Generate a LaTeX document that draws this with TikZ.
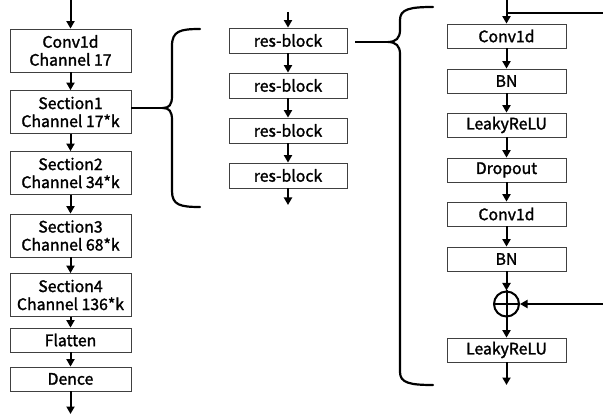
\documentclass[tikz,border=0pt]{standalone}
\usepackage{fontspec}
\setmainfont{Noto Sans CJK JP}[FakeBold=1.6]
\usetikzlibrary{arrows.meta}
\tikzset{
  blk/.style={draw=black!75, line width=0.8pt, fill=white, inner sep=0pt, align=center,
     font=\fontsize{15.8}{18}\selectfont},
  lblk/.style={blk, minimum width=121pt, minimum height=43pt},
  lsblk/.style={blk, minimum width=121pt, minimum height=24pt},
  mblk/.style={blk, minimum width=118pt, minimum height=25pt},
  rblk/.style={blk, minimum width=119pt, minimum height=24pt},
  arr/.style={line width=2pt, -{Triangle[length=7.5pt,width=8pt]}},
  ln/.style={line width=2pt},
  brace/.style={line width=2.2pt, line cap=round}
}
\begin{document}
\begin{tikzpicture}[x=1pt,y=-1pt]
\useasboundingbox (0,0) rectangle (603,414);
% left column
\node[lblk] (conv) at (70.5,50.5) {Conv1d\\Channel 17};
\node[lblk] (s1) at (70.5,112) {Section1\\Channel 17*k};
\node[lblk] (s2) at (70.5,173) {Section2\\Channel 34*k};
\node[lblk] (s3) at (70.5,235.5) {Section3\\Channel 68*k};
\node[lblk] (s4) at (70.5,295) {Section4\\Channel 136*k};
\node[lsblk] (fl) at (70.5,340) {Flatten};
\node[lsblk] (de) at (70.5,379) {Dence};
\coordinate (lin) at (70.5,0);
\coordinate (lout) at (70.5,414);
\draw[arr] (lin) -- (conv);
\draw[arr] (conv) -- (s1);
\draw[arr] (s1) -- (s2);
\draw[arr] (s2) -- (s3);
\draw[arr] (s3) -- (s4);
\draw[arr] (s4) -- (fl);
\draw[arr] (fl) -- (de);
\draw[arr] (de) -- (lout);
% brace 1
\coordinate (b1tip) at (163,108);
\draw[ln] (s1.east |- b1tip) -- (b1tip);
\draw[brace] (200,29) .. controls (180,29) and (172,31) .. (172,46) -- (172,96)
  .. controls (172,105) and (169,108) .. (b1tip)
  .. controls (169,108) and (172,111) .. (172,120) -- (172,191)
  .. controls (172,205) and (180,207) .. (200,207);
% middle column
\node[mblk] (r1) at (288,40.5) {res-block};
\node[mblk] (r2) at (288,85.5) {res-block};
\node[mblk] (r3) at (288,130.5) {res-block};
\node[mblk] (r4) at (288,175.5) {res-block};
\coordinate (min) at (288,12);
\coordinate (mout) at (288,205);
\draw[arr] (min) -- (r1);
\draw[arr] (r1) -- (r2);
\draw[arr] (r2) -- (r3);
\draw[arr] (r3) -- (r4);
\draw[arr] (r4) -- (mout);
% brace 2
\coordinate (b2tip) at (388,42);
\draw[ln] (355,42) -- (b2tip);
\draw[brace] (433,7) .. controls (410,7) and (400,9) .. (400,20) -- (400,30)
  .. controls (400,38) and (396,42) .. (b2tip)
  .. controls (396,42) and (400,46) .. (400,54) -- (400,372)
  .. controls (400,383) and (410,385) .. (433,385);
% right column
\node[rblk] (c1) at (506.5,36) {Conv1d};
\node[rblk] (bn1) at (506.5,81) {BN};
\node[rblk] (lr1) at (506.5,125) {LeakyReLU};
\node[rblk] (dr) at (506.5,170) {Dropout};
\node[rblk] (c2) at (506.5,214) {Conv1d};
\node[rblk] (bn2) at (506.5,259) {BN};
\node[circle, draw, line width=2pt, minimum size=25pt, inner sep=0pt] (pl) at (506.5,304) {};
\draw[line width=2pt] (pl.north) -- (pl.south) (pl.west) -- (pl.east);
\node[rblk] (lr2) at (506.5,350) {LeakyReLU};
\coordinate (rin) at (506.5,0);
\coordinate (rj) at (506.5,13);
\coordinate (skipin) at (603,13);
\coordinate (skipout) at (603,304);
\coordinate (rout) at (506.5,385);
\draw[arr] (rin) -- (c1);
\draw[ln] (skipin) -- (rj);
\draw[arr] (c1) -- (bn1);
\draw[arr] (bn1) -- (lr1);
\draw[arr] (lr1) -- (dr);
\draw[arr] (dr) -- (c2);
\draw[arr] (c2) -- (bn2);
\draw[arr] (bn2) -- (pl);
\draw[arr] (skipout) -- (pl);
\draw[arr] (pl) -- (lr2);
\draw[arr] (lr2) -- (rout);
\end{tikzpicture}
\end{document}
